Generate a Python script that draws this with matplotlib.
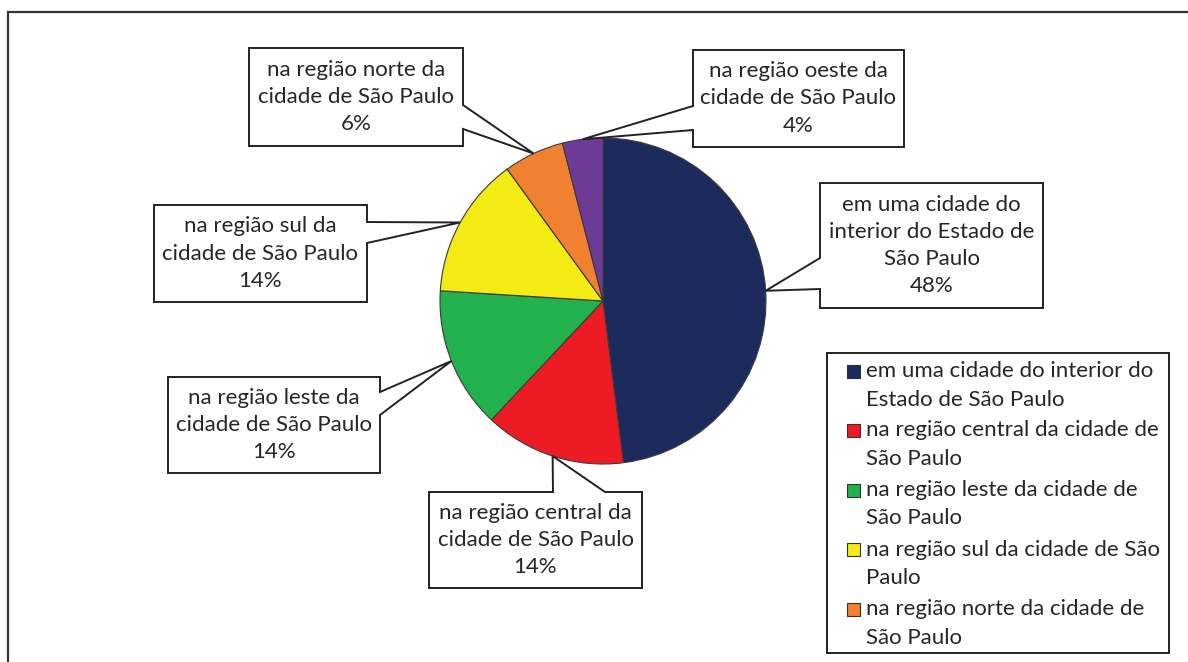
import matplotlib
matplotlib.use("Agg")
import matplotlib.pyplot as plt
import numpy as np
from matplotlib.patches import Polygon, Rectangle

# ---------------- data ----------------
categories = [
    "em uma cidade do interior do Estado de São Paulo",
    "na região central da cidade de São Paulo",
    "na região leste da cidade de São Paulo",
    "na região sul da cidade de São Paulo",
    "na região norte da cidade de São Paulo",
    "na região oeste da cidade de São Paulo",
]
values = [48, 14, 14, 14, 6, 4]
colors = ["#1c2a5c", "#ed1c24", "#22b14c", "#f4eb14", "#ef8130", "#6d3a97"]

callout_lines = [
    ["em uma cidade do", "interior do Estado de", "São Paulo"],
    ["na região central da", "cidade de São Paulo"],
    ["na região leste da", "cidade de São Paulo"],
    ["na região sul da", "cidade de São Paulo"],
    ["na região norte da", "cidade de São Paulo"],
    ["na região oeste da", "cidade de São Paulo"],
]
legend_lines = [
    ["em uma cidade do interior do", "Estado de São Paulo"],
    ["na região central da cidade de", "São Paulo"],
    ["na região leste da cidade de", "São Paulo"],
    ["na região sul da cidade de São", "Paulo"],
    ["na região norte da cidade de", "São Paulo"],
]

# ---------------- layout (pixel coords, y down) ----------------
W, H = 1188, 662
FONT = ["Lato", "DejaVu Sans"]
FS = 16
TXT = "#262626"

# box (left, top, right, bottom), side, base points along side
callout_layout = [
    ((820, 183, 1043, 308), "left", (289, 258)),
    ((429, 492, 642, 588), "top", (553, 605)),
    ((168, 377, 380, 473), "right", (392, 415)),
    ((154, 205, 367, 302), "right", (222, 243)),
    ((249, 48, 463, 146), "right", (105, 129)),
    ((693, 50, 904, 147), "left", (130, 106)),
]


def Y(y):
    return H - y


fig = plt.figure(figsize=(W / 100, H / 100), dpi=100)
ax = fig.add_axes([0, 0, 1, 1])

cx, cy, R = 603, Y(301), 163
wedges, _ = ax.pie(
    values, colors=colors, startangle=90, counterclock=False,
    center=(cx, cy), radius=R,
    wedgeprops=dict(edgecolor="#3a3a3a", linewidth=0.8),
)
ax.set_xlim(0, W)
ax.set_ylim(0, H)
ax.set_aspect("equal")
ax.axis("off")

# outer frame (left and top edges only visible)
ax.plot([8, 8, W + 5], [Y(H + 5), Y(12), Y(12)], color="#333333", lw=1.6,
        solid_joinstyle="miter", clip_on=False)

# callouts
for w, val, lines, (box, side, base) in zip(wedges, values, callout_lines, callout_layout):
    mid = np.deg2rad((w.theta1 + w.theta2) / 2)
    tip = (cx + R * np.cos(mid), cy + R * np.sin(mid))
    l, t, r, b = box
    TL, TR, BR, BL = (l, Y(t)), (r, Y(t)), (r, Y(b)), (l, Y(b))
    if side == "right":
        verts = [TL, TR, (r, Y(base[0])), tip, (r, Y(base[1])), BR, BL]
    elif side == "left":
        verts = [TL, TR, BR, BL, (l, Y(base[0])), tip, (l, Y(base[1]))]
    else:  # top
        verts = [TL, (base[0], Y(t)), tip, (base[1], Y(t)), TR, BR, BL]
    ax.add_patch(Polygon(verts, closed=True, facecolor="white",
                         edgecolor="#222222", lw=1.4, joinstyle="miter", zorder=5))
    text = "\n".join(lines + [f"{val}%"])
    ax.text((l + r) / 2, Y((t + b) / 2), text, ha="center", va="center",
            fontsize=FS, family=FONT, color=TXT, linespacing=1.45, zorder=6)

# legend (manual)
lx0, ly0, lx1, ly1 = 827, 353, 1169, 653
ax.add_patch(Rectangle((lx0, Y(ly1)), lx1 - lx0, ly1 - ly0, facecolor="white",
                       edgecolor="#222222", lw=1.4, zorder=5))
for i, lines in enumerate(legend_lines):
    y1 = 371 + i * 59.5
    ax.add_patch(Rectangle((847, Y(y1 + 6.5)), 13, 13, facecolor=colors[i],
                           edgecolor="#333333", lw=0.8, zorder=6))
    for j, ln in enumerate(lines):
        ax.text(866, Y(y1 + j * 28.5), ln, ha="left", va="center",
                fontsize=FS, family=FONT, color=TXT, zorder=6)

fig.savefig("out.png", dpi=100, facecolor="white")
